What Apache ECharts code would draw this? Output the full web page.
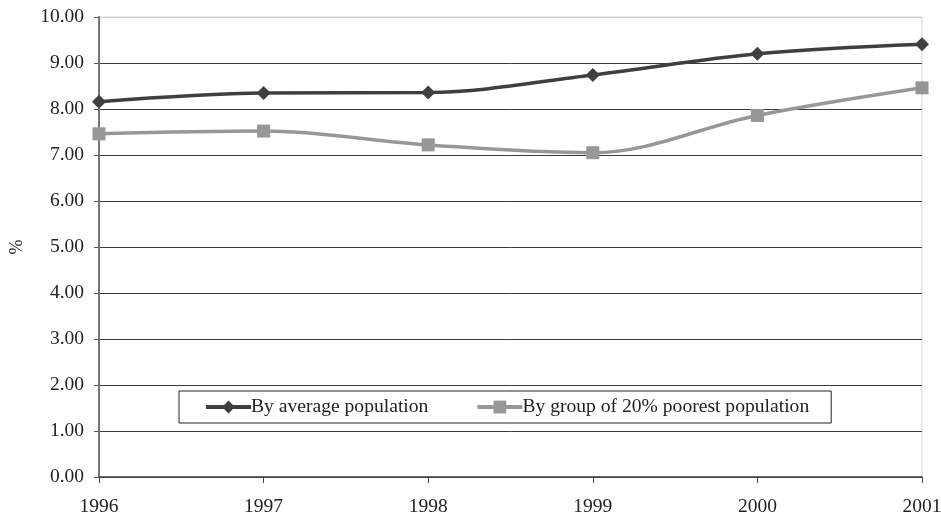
<!DOCTYPE html>
<html>
<head>
<meta charset="utf-8">
<script src="https://cdn.jsdelivr.net/npm/echarts@6/dist/echarts.min.js"></script>
<style>
  html, body { margin: 0; padding: 0; background: #fff; }
  #chart { width: 941px; height: 515px; }
</style>
</head>
<body>
<div id="chart"></div>
<script>
// Years along the horizontal axis
const years = ['1996', '1997', '1998', '1999', '2000', '2001'];
// Share (%) by average population
const avgPopulation = [8.16, 8.35, 8.36, 8.74, 9.20, 9.41];
// Share (%) by group of 20% poorest population
const poorestGroup = [7.46, 7.52, 7.22, 7.05, 7.86, 8.46];

const seriesNames = ['By average population', 'By group of 20% poorest population'];
const fontFamily = '"Liberation Serif", "DejaVu Serif", serif';

// one colour per split line, bottom to top; the top edge is a pale frame line
const splitColors = [];
for (let i = 0; i <= 10; i++) splitColors.push(i === 10 ? '#d4d4d4' : '#3a3a3a');

const chart = echarts.init(document.getElementById('chart'), null, { renderer: 'canvas' });
chart.setOption({
  animation: false,
  backgroundColor: '#ffffff',
  textStyle: { fontFamily: fontFamily, color: '#222' },
  grid: {
    left: 99, right: 19, top: 17, bottom: 38,
    outerBoundsMode: 'none',
    containLabel: false,
    show: true, borderColor: '#d4d4d4', borderWidth: 1, backgroundColor: 'transparent'
  },
  legend: {
    data: seriesNames,
    left: 179, top: 391,
    padding: [6, 22, 6, 25],
    itemGap: 47,
    itemWidth: 45, itemHeight: 16,
    backgroundColor: '#ffffff',
    borderColor: '#222', borderWidth: 1,
    lineStyle: { width: 4 },
    textStyle: { fontFamily: fontFamily, fontSize: 19.6, color: '#222', padding: [0, 0, 0, -5] }
  },
  xAxis: {
    type: 'category',
    data: years,
    boundaryGap: false,
    axisLine: { lineStyle: { color: '#444', width: 1.5 } },
    axisTick: { show: true, length: 6, lineStyle: { color: '#444' } },
    axisLabel: { fontSize: 19.5, color: '#222', margin: 20, fontFamily: fontFamily },
    splitLine: { show: false }
  },
  yAxis: {
    type: 'value',
    min: 0, max: 10, interval: 1,
    name: '%',
    nameLocation: 'middle',
    nameGap: 73,
    nameRotate: 90,
    nameTextStyle: { fontSize: 18, color: '#222', fontFamily: fontFamily },
    axisLine: { show: true, lineStyle: { color: '#777', width: 2 } },
    axisTick: { show: true, length: 5, lineStyle: { color: '#555' } },
    axisLabel: {
      fontSize: 19.5, color: '#222', margin: 15, fontFamily: fontFamily,
      formatter: v => v.toFixed(2)
    },
    splitLine: { show: true, lineStyle: { color: splitColors, width: 1 } }
  },
  series: [
    {
      name: seriesNames[0],
      type: 'line',
      data: avgPopulation,
      smooth: 0.35,
      symbol: 'diamond',
      symbolSize: 14,
      color: '#3f3f3f',
      lineStyle: { width: 3.5, color: '#3f3f3f' },
      itemStyle: { color: '#3f3f3f' },
      z: 3
    },
    {
      name: seriesNames[1],
      type: 'line',
      data: poorestGroup,
      smooth: 0.35,
      symbol: 'rect',
      symbolSize: 13,
      color: '#979797',
      lineStyle: { width: 3.5, color: '#979797' },
      itemStyle: { color: '#979797' },
      z: 2
    }
  ]
});
</script>
</body>
</html>
